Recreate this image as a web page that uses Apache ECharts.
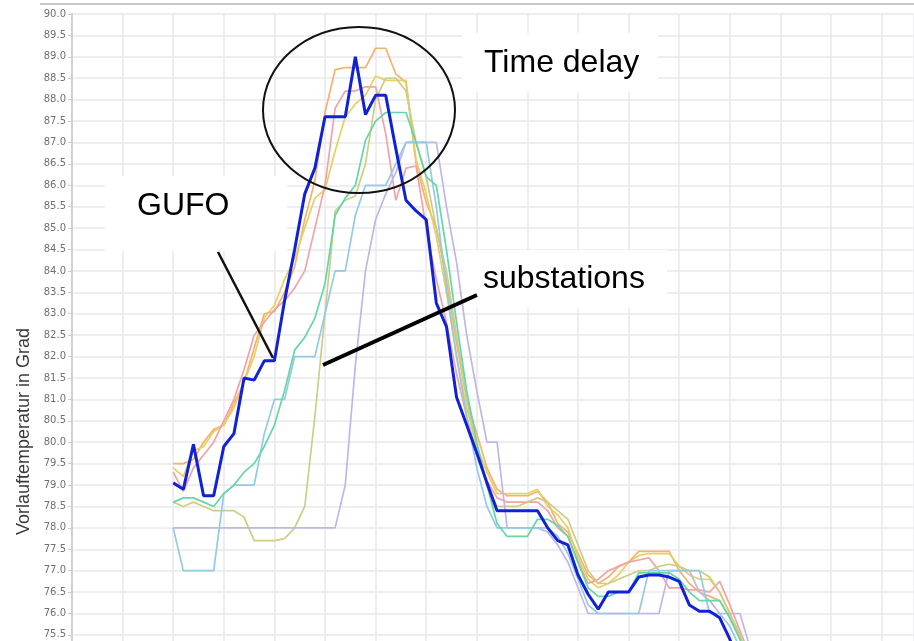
<!DOCTYPE html>
<html>
<head>
<meta charset="utf-8">
<script src="https://cdn.jsdelivr.net/npm/echarts@6/dist/echarts.min.js"></script>
<style>
html,body{margin:0;padding:0;background:#fff;}
#chart{width:914px;height:641px;}
</style>
</head>
<body>
<div id="chart"></div>
<script>
// ---- data (sample index on x, flow temperature on y) ----
const START_INDEX = 10;
const yTickMin = 70.5;
const yTickMax = 90.0;
const yTickStep = 0.5;
const yAxisTitle = "Vorlauftemperatur in Grad";
const labelTimeDelay = "Time delay";
const labelGufo = "GUFO";
const labelSubstations = "substations";

const gufo = [79.05,78.9,79.95,78.75,78.75,79.9,80.2,81.5,81.45,81.9,81.9,83.3,84.5,85.8,86.4,87.6,87.6,87.6,89.0,87.65,88.1,88.1,86.85,85.65,85.4,85.2,83.25,82.7,81.05,80.4,79.75,79.05,78.4,78.4,78.4,78.4,78.4,78.0,77.7,77.6,76.9,76.45,76.1,76.5,76.5,76.5,76.85,76.9,76.9,76.85,76.75,76.2,76.05,76.05,75.9,75.4,74.8,74.2];
const subOrange = [79.5,79.5,79.6,80.0,80.3,80.4,80.9,81.4,82.2,83.0,83.05,83.5,84.1,85.2,86.1,87.7,88.7,88.75,88.75,88.75,89.2,89.2,88.6,88.4,86.5,85.6,85.0,83.8,82.3,81.0,80.2,79.4,78.9,78.75,78.75,78.75,78.85,78.6,78.1,77.9,77.4,76.9,76.7,76.85,77.1,77.2,77.45,77.45,77.45,77.45,77.0,76.7,76.5,76.4,76.3,75.9,75.4,74.8];
const subYellow = [79.4,79.2,79.8,79.9,80.25,80.4,80.8,81.4,82.0,82.9,83.2,83.8,84.3,85.0,85.7,85.9,86.8,87.6,87.9,88.1,88.55,88.45,88.45,88.45,86.6,85.8,84.8,83.5,82.0,80.8,79.9,79.3,78.8,78.8,78.8,78.8,78.9,78.5,78.3,78.0,77.3,76.8,76.6,76.7,76.9,77.2,77.35,77.4,77.4,77.4,77.1,76.9,76.8,76.8,76.5,76.0,75.5,75.0];
const subPink = [79.3,78.85,79.4,79.7,80.0,80.5,81.0,81.7,82.5,82.8,83.1,83.3,83.6,84.0,85.0,86.0,87.8,88.2,88.2,88.3,88.3,87.2,85.65,86.4,86.45,85.0,83.8,82.8,81.6,80.6,79.7,79.1,78.7,78.6,78.6,78.6,78.6,78.4,78.0,77.8,77.2,76.7,76.8,77.0,77.1,77.2,77.25,77.3,77.0,76.6,76.6,76.55,76.55,76.5,76.75,76.2,75.6,75.0];
const subGreen = [78.6,78.7,78.7,78.6,78.5,78.8,79.0,79.3,79.5,79.9,80.4,81.2,82.15,82.45,82.9,83.7,85.3,85.7,86.0,87.05,87.5,87.7,87.7,87.7,87.0,86.2,86.0,84.5,82.8,81.2,80.0,79.0,78.1,77.8,77.8,77.8,78.2,78.2,78.05,77.8,77.2,76.6,76.4,76.4,76.5,76.5,76.95,76.95,76.95,76.95,76.8,76.5,76.3,76.3,76.3,75.9,75.4,74.8];
const subLightBlue = [78.0,77.0,77.0,77.0,77.0,78.8,79.0,79.0,79.0,80.2,81.0,81.0,82.0,82.0,82.0,83.0,84.0,84.0,85.3,86.0,86.0,86.0,86.5,87.0,87.0,87.0,85.5,83.6,82.0,80.6,79.4,78.5,78.0,78.0,78.0,78.0,78.0,78.0,77.8,77.4,76.8,76.2,76.0,76.0,76.0,76.0,76.0,77.0,77.0,77.0,77.0,77.0,77.0,76.0,76.0,75.7,75.2,74.6];
const subOlive = [78.6,78.5,78.6,78.5,78.4,78.4,78.4,78.25,77.7,77.7,77.7,77.75,78.0,78.5,80.6,83.0,85.4,85.65,85.75,86.5,88.0,88.5,88.5,88.2,87.0,86.2,85.0,84.0,82.5,81.0,79.8,79.0,78.5,78.5,78.5,78.6,78.7,78.6,78.4,78.2,77.6,77.0,76.7,76.7,76.8,76.9,77.0,77.0,77.1,77.15,77.1,77.0,77.0,76.85,76.5,76.0,75.5,75.0];
const subLavender = [78.0,78.0,78.0,78.0,78.0,78.0,78.0,78.0,78.0,78.0,78.0,78.0,78.0,78.0,78.0,78.0,78.0,79.0,81.8,84.0,85.2,85.8,86.3,87.0,87.0,87.0,87.0,85.5,84.2,82.5,81.2,80.0,80.0,78.0,78.0,78.0,78.0,77.9,77.6,77.2,76.6,76.0,76.0,76.0,76.0,76.0,76.0,76.0,76.0,77.0,77.0,77.0,76.5,76.3,76.0,76.0,76.0,75.2];

const substations = [
  {name: "substation 1", values: subOrange,    color: "#f3b26e"},
  {name: "substation 2", values: subYellow,    color: "#e7cf62"},
  {name: "substation 3", values: subPink,      color: "#f1a3a6"},
  {name: "substation 4", values: subOlive,     color: "#cdcd86"},
  {name: "substation 5", values: subLavender,  color: "#c3b5e6"},
  {name: "substation 6", values: subLightBlue, color: "#93cbe4"},
  {name: "substation 7", values: subGreen,     color: "#64d6a8"}
];

function toPoints(vals){ return vals.map((v,i)=>[START_INDEX+i, v]); }

const series = substations.map(s => ({
  name: s.name, type: 'line', data: toPoints(s.values),
  showSymbol: false, symbol: 'none', z: 2,
  lineStyle: {color: s.color, width: 1.7}
}));
series.push({
  name: "GUFO", type: 'line', data: toPoints(gufo),
  showSymbol: false, symbol: 'none', z: 5,
  lineStyle: {color: "#1122d6", width: 3}
});

const chart = echarts.init(document.getElementById('chart'), null, {renderer: 'canvas'});
chart.setOption({
  animation: false,
  backgroundColor: '#ffffff',
  grid: {left: 72, right: 0, top: 14, bottom: -208, containLabel: false, outerBoundsMode: 'none'},
  xAxis: {
    type: 'value', min: 0, max: 83.2, interval: 5,
    axisLine: {show: false}, axisTick: {show: false}, axisLabel: {show: false},
    splitLine: {show: true, lineStyle: {color: '#e8e8ee', width: 1.5}}
  },
  yAxis: {
    type: 'value', min: yTickMin, max: yTickMax, interval: yTickStep,
    name: yAxisTitle, nameLocation: 'middle', nameGap: 39, nameRotate: 90,
    nameTextStyle: {fontFamily: 'Liberation Sans', fontSize: 18, color: '#3a3a3a'},
    axisLine: {show: true, lineStyle: {color: '#d0d0d0', width: 2}},
    axisTick: {show: true, length: 4, lineStyle: {color: '#cccccc'}},
    axisLabel: {margin: 6, fontFamily: 'DejaVu Sans', fontSize: 10, color: '#707070',
      formatter: v => v.toFixed(1)},
    splitLine: {show: true, lineStyle: {color: '#e8e8ee', width: 1.5}}
  },
  series: series,
  graphic: [
    {type: 'line', shape: {x1: 40, y1: 4, x2: 914, y2: 4}, style: {stroke: '#c8c8c8', lineWidth: 2}, z: 50},
    {type: 'rect', shape: {x: 462, y: 33, width: 196, height: 59}, style: {fill: '#ffffff'}, z: 1},
    {type: 'rect', shape: {x: 105, y: 176, width: 182, height: 75}, style: {fill: '#ffffff'}, z: 1},
    {type: 'rect', shape: {x: 463, y: 250, width: 204, height: 58}, style: {fill: '#ffffff'}, z: 1},
    {type: 'ellipse', shape: {cx: 359, cy: 110, rx: 96, ry: 83}, style: {fill: 'none', stroke: '#111111', lineWidth: 2}, z: 100},
    {type: 'text', x: 484, y: 63, style: {text: labelTimeDelay, font: '32px "Liberation Sans", Arial, sans-serif', fill: '#000', textVerticalAlign: 'middle', verticalAlign: 'middle'}, z: 100},
    {type: 'text', x: 137, y: 206, style: {text: labelGufo, font: '32px "Liberation Sans", Arial, sans-serif', fill: '#000', textVerticalAlign: 'middle', verticalAlign: 'middle'}, z: 100},
    {type: 'text', x: 483, y: 279, style: {text: labelSubstations, font: '32px "Liberation Sans", Arial, sans-serif', fill: '#000', textVerticalAlign: 'middle', verticalAlign: 'middle'}, z: 100},
    {type: 'line', shape: {x1: 218, y1: 252, x2: 273, y2: 358}, style: {stroke: '#111111', lineWidth: 2.5}, z: 100},
    {type: 'line', shape: {x1: 323, y1: 365, x2: 477, y2: 295}, style: {stroke: '#000000', lineWidth: 4}, z: 100}
  ]
});
</script>
</body>
</html>
